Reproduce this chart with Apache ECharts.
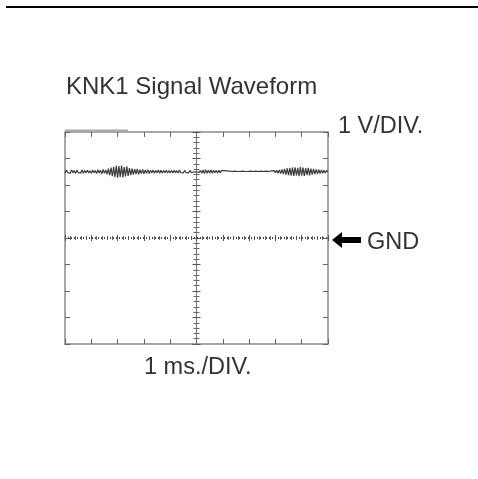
<!DOCTYPE html>
<html><head><meta charset="utf-8">
<script src="https://cdn.jsdelivr.net/npm/echarts@6/dist/echarts.min.js"></script>
<style>html,body{margin:0;padding:0;background:#fff}#c{width:478px;height:479px}</style>
</head><body><div id="c"></div>
<script>
// time in ms (1 ms / DIV), 10 divisions, sampled every 0.05 ms
var timeMs = [];
for (var i = 0; i <= 200; i++) timeMs.push(+(i * 0.05).toFixed(2));
// KNK1 signal (V)
var signalV = [
 2.45,2.56,2.47,2.54,2.44,2.57,2.46,2.55,2.43,2.56,2.47,2.53,2.45,2.57,2.44,2.55,2.46,2.56,2.45,2.54,
 2.44,2.57,2.46,2.55,2.43,2.58,2.45,2.56,2.42,2.59,2.44,2.57,2.40,2.62,2.37,2.66,2.33,2.69,2.30,2.72,
 2.28,2.71,2.30,2.73,2.29,2.68,2.32,2.70,2.34,2.64,2.37,2.62,2.39,2.60,2.41,2.61,2.40,2.58,2.43,2.59,
 2.42,2.57,2.44,2.58,2.43,2.56,2.45,2.57,2.44,2.55,2.46,2.57,2.44,2.56,2.45,2.55,2.46,2.56,2.45,2.54,
 2.46,2.55,2.45,2.56,2.46,2.54,2.45,2.56,2.47,2.54,2.46,2.55,2.47,2.53,2.46,2.55,2.47,2.52,2.49,2.51,
 2.50,2.51,2.47,2.55,2.44,2.57,2.43,2.58,2.44,2.56,2.45,2.57,2.44,2.56,2.46,2.55,2.45,2.56,2.46,2.54,
 2.47,2.54,2.48,2.53,2.48,2.52,2.49,2.51,2.50,2.52,2.49,2.51,2.50,2.51,2.49,2.52,2.50,2.51,2.49,2.51,
 2.50,2.52,2.49,2.51,2.50,2.52,2.49,2.51,2.50,2.52,2.49,2.51,2.50,2.52,2.49,2.51,2.48,2.53,2.47,2.54,
 2.46,2.56,2.44,2.57,2.43,2.59,2.41,2.61,2.39,2.63,2.37,2.65,2.35,2.66,2.34,2.67,2.36,2.65,2.33,2.68,
 2.35,2.66,2.34,2.64,2.37,2.65,2.36,2.62,2.39,2.61,2.41,2.59,2.42,2.58,2.43,2.57,2.44,2.56,2.45,2.55,
 2.50
];
// GND trace (V)
var gndTime = [0, 10];
var gndV = [0, 0];
// faint trace at top-left edge
var edgeTime = [0, 2.4];
var edgeV = [4.06, 4.06];
var xMin = 0, xMax = 10, xDiv = 1;
var yMin = -4, yMax = 4, yDiv = 1;

var title = 'KNK1 Signal Waveform';
var vDivLabel = '1 V/DIV.';
var tDivLabel = '1 ms./DIV.';
var gndLabel = 'GND';

function pairs(xs, ys){ return xs.map(function(x,i){return [x, ys[i]];}); }

var boxLine = {show:true, onZero:false, lineStyle:{color:'#8a8a8a', width:1.5}};
function boxX(pos){
  return {type:'value', position:pos, min:xMin, max:xMax, interval:xDiv,
    axisLine:boxLine, axisTick:{show:true, inside:true, length:5, lineStyle:{color:'#666',width:1}},
    axisLabel:{show:false}, splitLine:{show:false}};
}
function boxY(pos){
  return {type:'value', position:pos, min:yMin, max:yMax, interval:yDiv,
    axisLine:boxLine, axisTick:{show:true, inside:true, length:5, lineStyle:{color:'#666',width:1}},
    axisLabel:{show:false}, splitLine:{show:false}};
}
function centerY(pos){
  return {type:'value', position:pos, offset:-131.5, min:yMin, max:yMax, interval:yDiv,
    axisLine:{show:true, onZero:false, lineStyle:{color:'#777', width:1}},
    axisTick:{show:true, inside:true, length:4, lineStyle:{color:'#555',width:1}},
    minorTick:{show:true, splitNumber:5, length:3, lineStyle:{color:'#666',width:1}},
    axisLabel:{show:false}, splitLine:{show:false}};
}
function centerX(pos){
  return {type:'value', position:pos, offset:-106, min:xMin, max:xMax, interval:xDiv,
    axisLine:{show:false, onZero:false},
    axisTick:{show:true, inside:true, length:3, lineStyle:{color:'#555',width:1}},
    minorTick:{show:true, splitNumber:5, length:2, lineStyle:{color:'#666',width:1}},
    axisLabel:{show:false}, splitLine:{show:false}};
}

var chart = echarts.init(document.getElementById('c'));
var font = '"Liberation Sans", Arial, sans-serif';
chart.setOption({
  animation:false,
  backgroundColor:'#fff',
  title:{text:title, left:61, top:70, textStyle:{fontFamily:font, fontSize:24, fontWeight:'normal', color:'#333'}},
  grid:{left:65, top:132, width:263, height:212, containLabel:false},
  xAxis:[boxX('bottom'), boxX('top'), centerX('bottom'), centerX('top')],
  yAxis:[boxY('left'), boxY('right'), centerY('left'), centerY('right')],
  series:[
    {type:'line', xAxisIndex:0, yAxisIndex:0, data:pairs(gndTime, gndV), symbol:'none',
      lineStyle:{color:'#444', width:2, type:[1,2]}, z:3},
    {type:'line', xAxisIndex:0, yAxisIndex:0, data:pairs(timeMs, signalV), symbol:'none',
      lineStyle:{color:'#3a3a3a', width:1.2}, z:4},
    {type:'line', xAxisIndex:0, yAxisIndex:0, data:pairs(edgeTime, edgeV), symbol:'none', clip:false,
      lineStyle:{color:'#aaa', width:2}, z:2}
  ],
  graphic:[
    {type:'rect', left:6, top:6, shape:{width:472, height:2}, style:{fill:'#000'}},
    {type:'text', left:338, top:115, style:{text:vDivLabel, font:'23.5px '+font, fill:'#333'}},
    {type:'text', left:367, top:231, style:{text:gndLabel, font:'23.5px '+font, fill:'#333'}},
    {type:'text', left:144, top:356, style:{text:tDivLabel, font:'23.5px '+font, fill:'#333'}},
    {type:'polygon', shape:{points:[[332,240],[342,232],[342,237],[361,237],[361,243],[342,243],[342,248]]}, style:{fill:'#000'}}
  ]
});
</script></body></html>
